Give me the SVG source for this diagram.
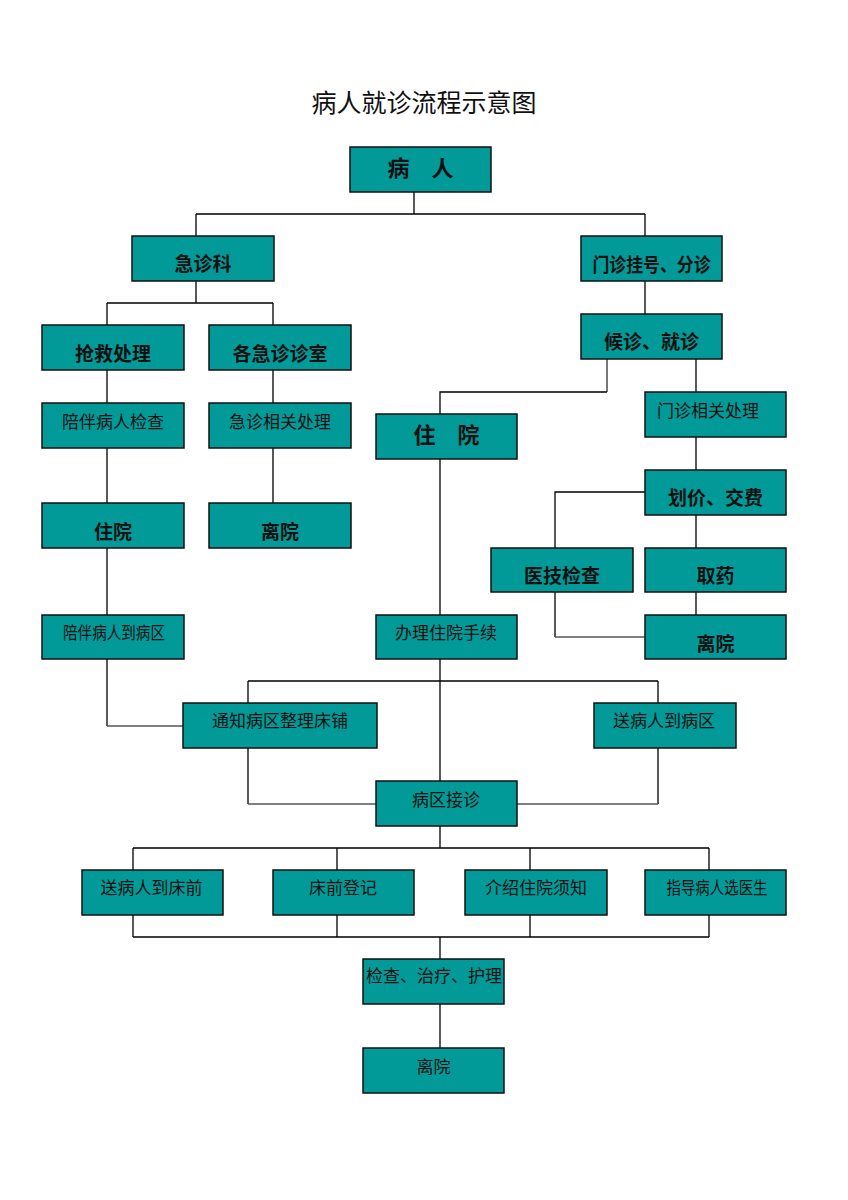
<svg xmlns="http://www.w3.org/2000/svg" width="848" height="1200" viewBox="0 0 848 1200">
<style>
.bx{fill:#019a98;stroke:#111;stroke-width:1.5}
.b{font-family:"Liberation Serif","Noto Sans CJK SC",serif;font-weight:bold;fill:#111;text-anchor:middle}
.n{font-family:"Liberation Serif","Noto Sans CJK SC",serif;font-weight:normal;fill:#111;text-anchor:middle;font-size:17px}
.c{fill:none;stroke:#000;stroke-width:1.3}
.g{fill:none;stroke:#555;stroke-width:1.6}
</style>
<rect width="848" height="1200" fill="#fff"/>
<text x="424" y="112" font-family="'Liberation Serif','Noto Sans CJK SC',serif" font-size="25" text-anchor="middle" fill="#111">病人就诊流程示意图</text>
<g id="connectors">
<path class="c" d="M414 192V214M196 214H645M196 214V236M645 214V236"/>
<path class="c" d="M196 281V303M107 303H273M107 303V325M273 303V325"/>
<path class="c" d="M107 370V403M273 370V403M107 448V503M273 448V503M107 548V615"/>
<path class="c" d="M107 659V726"/>
<path class="g" d="M107 726H183"/>
<path class="c" d="M645 281V314"/>
<path class="g" d="M607 359V392"/>
<path class="c" d="M607 392H440V414"/>
<path class="c" d="M696 359V392M696 437V470M696 515V548M696 592V615"/>
<path class="c" d="M645 492H555V548"/>
<path class="c" d="M555 592V637"/>
<path class="g" d="M555 637H645"/>
<path class="c" d="M440 459V615M440 659V781"/>
<path class="c" d="M248 681H658M248 681V703M658 681V703"/>
<path class="c" d="M248 748V804M658 748V804"/>
<path class="g" d="M248 804H376M658 804H517"/>
<path class="c" d="M440 826V848M133 848H709M133 848V870M337 848V870M530 848V870M709 848V870"/>
<path class="c" d="M133 915V937M337 915V937M530 915V937M709 915V937M133 937H709M440 937V959"/>
<path class="c" d="M440 1004V1048"/>
</g>
<g id="n-patient"><rect class="bx" x="350" y="147" width="141" height="45"/><text class="b" x="420.5" y="176" font-size="22">病　人</text></g>
<g id="n-emergency"><rect class="bx" x="132" y="236" width="142" height="45"/><text class="b" x="203" y="271" font-size="19">急诊科</text></g>
<g id="n-outpatient"><rect class="bx" x="581" y="236" width="141" height="45"/><text class="b" x="651.5" y="272" font-size="19" textLength="118" lengthAdjust="spacingAndGlyphs">门诊挂号、分诊</text></g>
<g id="n-rescue"><rect class="bx" x="42" y="325" width="142" height="45"/><text class="b" x="113" y="361" font-size="19">抢救处理</text></g>
<g id="n-rooms"><rect class="bx" x="209" y="325" width="142" height="45"/><text class="b" x="280" y="361" font-size="19">各急诊诊室</text></g>
<g id="n-wait"><rect class="bx" x="581" y="314" width="141" height="45"/><text class="b" x="651.5" y="349" font-size="19">候诊、就诊</text></g>
<g id="n-accompany"><rect class="bx" x="42" y="403" width="142" height="45"/><text class="n" x="113" y="427.5">陪伴病人检查</text></g>
<g id="n-emerg-proc"><rect class="bx" x="209" y="403" width="142" height="45"/><text class="n" x="280" y="427.5">急诊相关处理</text></g>
<g id="n-admit"><rect class="bx" x="376" y="414" width="141" height="45"/><text class="b" x="446.5" y="443" font-size="22">住　院</text></g>
<g id="n-out-proc"><rect class="bx" x="645" y="392" width="141" height="45"/><text class="n" x="708" y="416.5">门诊相关处理</text></g>
<g id="n-pay"><rect class="bx" x="645" y="470" width="141" height="45"/><text class="b" x="715.5" y="505" font-size="19">划价、交费</text></g>
<g id="n-admit-left"><rect class="bx" x="42" y="503" width="142" height="45"/><text class="b" x="113" y="539" font-size="19">住院</text></g>
<g id="n-leave-mid"><rect class="bx" x="209" y="503" width="142" height="45"/><text class="b" x="280" y="539" font-size="19">离院</text></g>
<g id="n-medtech"><rect class="bx" x="491" y="548" width="142" height="44"/><text class="b" x="562" y="583" font-size="19">医技检查</text></g>
<g id="n-medicine"><rect class="bx" x="645" y="548" width="141" height="44"/><text class="b" x="715.5" y="583" font-size="19">取药</text></g>
<g id="n-to-ward"><rect class="bx" x="42" y="615" width="142" height="44"/><text class="n" x="114" y="639" textLength="102" lengthAdjust="spacingAndGlyphs">陪伴病人到病区</text></g>
<g id="n-procedures"><rect class="bx" x="376" y="615" width="141" height="44"/><text class="n" x="446" y="639">办理住院手续</text></g>
<g id="n-leave-right"><rect class="bx" x="645" y="615" width="141" height="44"/><text class="b" x="715.5" y="651" font-size="19">离院</text></g>
<g id="n-notify"><rect class="bx" x="183" y="703" width="194" height="45"/><text class="n" x="280" y="727">通知病区整理床铺</text></g>
<g id="n-send-ward"><rect class="bx" x="594" y="703" width="142" height="45"/><text class="n" x="664" y="727">送病人到病区</text></g>
<g id="n-ward-receive"><rect class="bx" x="376" y="781" width="141" height="45"/><text class="n" x="446" y="806">病区接诊</text></g>
<g id="n-bed"><rect class="bx" x="82" y="870" width="141" height="45"/><text class="n" x="151.5" y="894">送病人到床前</text></g>
<g id="n-register"><rect class="bx" x="273" y="870" width="141" height="45"/><text class="n" x="343" y="894">床前登记</text></g>
<g id="n-notice"><rect class="bx" x="465" y="870" width="142" height="45"/><text class="n" x="536" y="894">介绍住院须知</text></g>
<g id="n-doctor"><rect class="bx" x="645" y="870" width="141" height="45"/><text class="n" x="717" y="894" textLength="101" lengthAdjust="spacingAndGlyphs">指导病人选医生</text></g>
<g id="n-treat"><rect class="bx" x="363" y="959" width="141" height="45"/><text class="n" x="434" y="982" font-size="15">检查、治疗、护理</text></g>
<g id="n-leave-bottom"><rect class="bx" x="363" y="1048" width="141" height="45"/><text class="n" x="433.5" y="1072.5" font-size="16">离院</text></g>
</svg>
